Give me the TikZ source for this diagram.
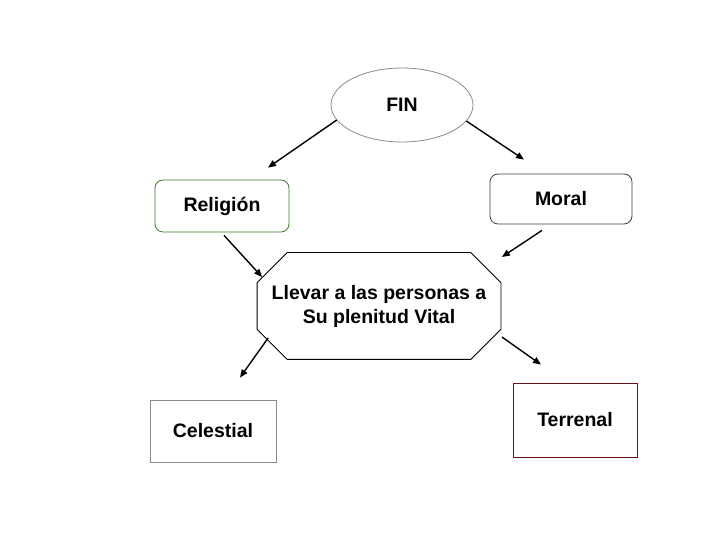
\documentclass[tikz,border=0pt]{standalone}
\usepackage{fontspec}
\setmainfont{Liberation Sans}
\usetikzlibrary{shapes.geometric,arrows.meta,calc}

\begin{document}
\begin{tikzpicture}[
    x=1pt, y=1pt,
    font=\fontsize{19.5}{24}\selectfont\bfseries,
    box/.style={
        rectangle, draw, line width=0.8pt,
        align=center, inner sep=0pt
    },
    roundBox/.style={box, rounded corners=8pt},
    greenBox/.style={roundBox, draw=green700},
    navyBox/.style={roundBox, draw=navy600},
    grayBox/.style={box, draw=gray500},
    maroonBox/.style={box, draw=maroon700},
    finShape/.style={ellipse, draw=gray500, line width=0.8pt, minimum width=142pt, minimum height=74pt},
    arrow/.style={-{Triangle[length=8pt, width=6.5pt]}, line width=1.4pt, draw=black}
]

    \definecolor{green700}{HTML}{3A7A2A}
    \definecolor{navy600}{HTML}{3A3A4A}
    \definecolor{gray500}{HTML}{8A8A8A}
    \definecolor{maroon700}{HTML}{6B0F1A}

    \useasboundingbox (0,0) rectangle (720,540);

    \node[finShape] (fin) at (402,435) {FIN};

    \node[greenBox, minimum width=134pt, minimum height=52pt] (religion) at (222,334) {Religión};
    \node[navyBox, minimum width=142pt, minimum height=50pt] (moral) at (561,341) {Moral};

    \node[box, draw=none, minimum width=243pt, minimum height=106pt] (meta) at (379,234) {
        Llevar a las personas a \\
        Su plenitud Vital
    };
    % octagon round the central text
    \draw[line width=0.8pt]
        ([xshift=30]meta.north west) -- ([xshift=-30]meta.north east)
        -- ([yshift=-30]meta.north east) -- ([yshift=30]meta.south east)
        -- ([xshift=-30]meta.south east) -- ([xshift=30]meta.south west)
        -- ([yshift=30]meta.south west) -- ([yshift=-30]meta.north west) -- cycle;

    \node[grayBox, minimum width=126pt, minimum height=62pt] (celestial) at (213,109) {Celestial};
    \node[maroonBox, minimum width=124pt, minimum height=74pt] (terrenal) at (575,120) {Terrenal};

    \draw[arrow] (fin.193) -- ($(religion.north)+(46,12)$);
    \draw[arrow] (fin.346) -- ($(moral.north)+(-37,14)$);

    \draw[arrow] ($(religion.south)+(2,-3)$) -- ($(meta.west)+(5,29)$);
    \draw[arrow] ($(moral.south)+(-19,-6)$) -- ($(meta.east)+(1,49)$);

    \draw[arrow] ($(meta.west)+(11,-32)$) -- ($(celestial.north)+(27,22)$);
    \draw[arrow] ($(meta.east)+(1,-31)$) -- ($(terrenal.north)+(-34,18)$);

\end{tikzpicture}
\end{document}
